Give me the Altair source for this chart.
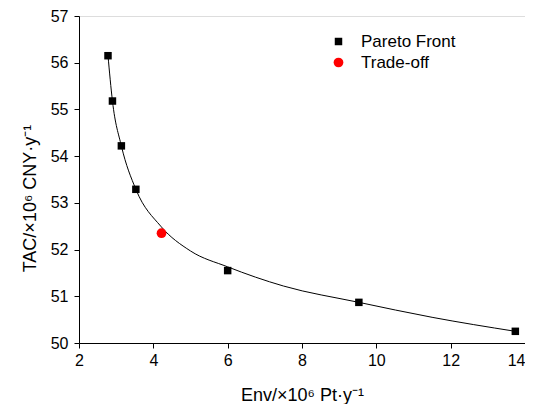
import altair as alt
import pandas as pd

# Pareto front points
pareto_x = [2.78, 2.90, 3.14, 3.53, 6.00, 9.53, 13.74]
pareto_y = [56.15, 55.18, 54.22, 53.29, 51.55, 50.87, 50.25]
# Trade-off point
trade_x = [4.22]
trade_y = [52.35]
# Fitted curve samples
curve_x = [2.78, 2.90, 3.14, 3.53, 4.20, 5.00, 6.00, 7.50, 9.53, 11.50, 13.74]
curve_y = [56.15, 55.18, 54.22, 53.29, 52.50, 51.97, 51.63, 51.22, 50.87, 50.55, 50.25]

series_names = ["Pareto Front", "Trade-off"]
x_ticks = [2, 3, 4, 5, 6, 7, 8, 9, 10, 11, 12, 13, 14]
y_ticks = [50, 50.5, 51, 51.5, 52, 52.5, 53, 53.5, 54, 54.5, 55, 55.5, 56, 56.5, 57]

pts = pd.DataFrame(
    {"x": pareto_x + trade_x,
     "y": pareto_y + trade_y,
     "series": [series_names[0]] * len(pareto_x) + [series_names[1]] * len(trade_x)}
)
curve = pd.DataFrame({"x": curve_x, "y": curve_y})

FONT = "Liberation Sans"

xscale = alt.Scale(domain=[2, 14], nice=False, zero=False)
yscale = alt.Scale(domain=[50, 57], nice=False, zero=False)

xaxis = alt.Axis(
    values=x_ticks,
    labelExpr="datum.value % 2 === 0 ? datum.label : ''",
    tickSize={"condition": {"test": "datum.value % 2 === 0", "value": 5}, "value": 3},
    labelAlign={"condition": {"test": "datum.value === 14", "value": "right"}, "value": "center"},
    grid=False, domainColor="black", tickColor="black", labelColor="black",
    labelFont=FONT, labelFontSize=16, labelPadding=4, labelFlush=False, labelBound=False,
    title="Env/×10⁶ Pt·y⁻¹", titleFont=FONT, titleFontSize=18, titleFontWeight="normal",
    titleColor="black", titleY=57, titleBaseline="alphabetic",
)
yaxis = alt.Axis(
    values=y_ticks,
    labelExpr="datum.value % 1 === 0 ? datum.label : ''",
    tickSize={"condition": {"test": "datum.value % 1 === 0", "value": 5}, "value": 3},
    grid=False, domainColor="black", tickColor="black", labelColor="black",
    labelFont=FONT, labelFontSize=16, labelPadding=6, labelFlush=False,
    title="TAC/×10⁶ CNY·y⁻¹", titleFont=FONT, titleFontSize=18, titleFontWeight="normal",
    titleColor="black", titleAngle=270, titleX=-44, titleY=182, titleAlign="center",
    titleBaseline="alphabetic",
)

line = alt.Chart(curve).mark_line(interpolate="monotone", color="black", strokeWidth=1).encode(
    x=alt.X("x:Q", scale=xscale, axis=xaxis),
    y=alt.Y("y:Q", scale=yscale, axis=yaxis),
)

points = alt.Chart(pts).mark_point(filled=True, opacity=1, strokeWidth=0).encode(
    x=alt.X("x:Q", scale=xscale),
    y=alt.Y("y:Q", scale=yscale),
    color=alt.Color("series:N", scale=alt.Scale(domain=series_names, range=["black", "red"]),
                    legend=alt.Legend(title=None, orient="none", legendX=251, legendY=17,
                                      labelFont=FONT, labelFontSize=17, labelColor="black",
                                      labelOffset=14, rowPadding=3, padding=0)),
    shape=alt.Shape("series:N", scale=alt.Scale(domain=series_names, range=["square", "circle"])),
    size=alt.Size("series:N", scale=alt.Scale(domain=series_names, range=[56, 95])),
)

chart = alt.layer(line, points).properties(
    width=446, height=327,
    autosize=alt.AutoSizeParams(type="none"),
    padding={"left": 71, "top": 8, "right": 0, "bottom": 61},
).configure_view(stroke=None).configure(background="white")

chart.save("out.html", embed_options={"renderer": "svg", "actions": False})
